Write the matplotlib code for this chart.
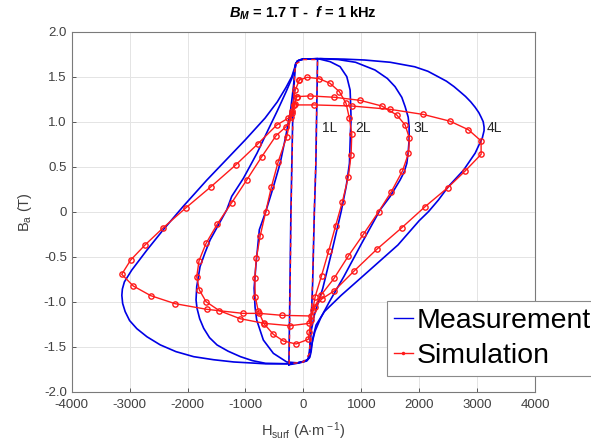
import numpy as np
import matplotlib
matplotlib.use("Agg")
import matplotlib.pyplot as plt
from matplotlib.lines import Line2D

plt.rcParams['font.family'] = ['Liberation Sans', 'DejaVu Sans']
plt.rcParams['mathtext.fontset'] = 'custom'
plt.rcParams['mathtext.rm'] = 'Liberation Sans'
plt.rcParams['mathtext.it'] = 'Liberation Sans:italic:bold'
plt.rcParams['mathtext.bf'] = 'Liberation Sans:bold'

# ---- measured loops (H in A/m, B in T) ----
meas_4L_H = [0, 300, 700, 1056, 1500, 1922, 2150, 2325, 2470, 2600, 2710, 2800, 2890, 2966, 3030,
             3069, 3105, 3120, 3120, 3090, 3060, 2966, 2764, 2505, 2332, 2160, 2000, 1633, 1056,
             652, 363, 219, 162, 133, 110, 60, 0, -100, -287, -653, -1201, -1550, -1894, -2200,
             -2471, -2700, -2875, -3000, -3077, -3120, -3134, -3125, -3090, -2964, -2705, -2418,
             -2073, -1668, -1000, -661, -450, -300, -200, -150, -130, -100, -40, 0]
meas_4L_B = [1.695, 1.70, 1.695, 1.685, 1.66, 1.61, 1.56, 1.50, 1.45, 1.39, 1.33, 1.28, 1.22, 1.16, 1.10,
             1.05, 1.00, 0.94, 0.90, 0.82, 0.78, 0.65, 0.46, 0.28, 0.13, 0.0, -0.10, -0.37, -0.70,
             -0.93, -1.11, -1.26, -1.41, -1.56, -1.62, -1.655, -1.665, -1.68, -1.69, -1.69, -1.67, -1.645, -1.611, -1.555,
             -1.48, -1.39, -1.30, -1.21, -1.11, -1.02, -0.93, -0.86, -0.78, -0.65, -0.43, -0.20,
             0.06, 0.35, 0.80, 1.04, 1.22, 1.38, 1.50, 1.60, 1.65, 1.675, 1.69, 1.695]

meas_3L_H = [0, 300, 600, 900, 1237, 1450, 1583, 1700, 1757, 1810, 1826, 1826, 1810, 1786, 1740, 1670,
             1500, 1325, 1000, 700, 450, 300, 200, 150, 120, 100, 60, 0, -100, -287, -653, -880, -1086,
             -1300, -1490, -1620, -1721, -1790, -1836, -1853, -1841, -1784, -1700, -1611, -1323, -1237,
             -1036, -800, -600, -450, -300, -200, -150, -130, -100, -40, 0]
meas_3L_B = [1.695, 1.70, 1.69, 1.66, 1.574, 1.48, 1.389, 1.27, 1.167, 1.05, 0.944, 0.797, 0.66, 0.537, 0.44, 0.352,
             0.17, 0.02, -0.36, -0.72, -1.0, -1.18, -1.33, -1.46, -1.56, -1.62, -1.655, -1.665, -1.68, -1.69, -1.685, -1.655, -1.611,
             -1.55, -1.481, -1.40, -1.296, -1.19, -1.074, -0.98, -0.833, -0.611, -0.46, -0.315, 0.02, 0.17,
             0.37, 0.65, 0.92, 1.12, 1.33, 1.48, 1.58, 1.64, 1.675, 1.69, 1.695]

meas_2L_H = [0, 250, 461, 634, 750, 807, 818, 824, 814, 796, 739, 652, 500, 335, 190, 133, 104, 80,
             0, -100, -287, -518, -691, -806, -834, -850, -820, -760, -650, -520, -400, -300,
             -220, -170, -145, -130, -100, -40, 0]
meas_2L_B = [1.695, 1.70, 1.667, 1.611, 1.50, 1.352, 1.167, 1.02, 0.907, 0.537, 0.278, 0.0, -0.42, -0.852, -1.148, -1.333, -1.556, -1.64,
             -1.665, -1.68, -1.67, -1.574, -1.426, -1.203, -1.06, -0.85, -0.6, -0.2, 0.0, 0.27, 0.54, 0.85,
             1.13, 1.40, 1.57, 1.64, 1.675, 1.69, 1.695]

meas_1L_H = [-250, -235, -215, -185, -150, -135, -100, 0, 245, 215, 190, 160, 130, 110, 100, 50, 0, -150, -250]
meas_1L_B = [-1.70, -1.0, 0.0, 1.0, 1.55, 1.64, 1.675, 1.695, 1.70, 0.5, 0.0, -0.8, -1.3, -1.55, -1.62, -1.66, -1.67, -1.69, -1.70]

# ---- simulated loops ----
sim_4L_H = [-155, 190, 836, 1497, 2073, 2534, 2850, 3069, 3069, 2793, 2494, 2102, 1700, 1268, 881, 530,
            318, 200, 128, -363, -760, -1042, -1668, -2216, -2636, -2936, -3136, -2981, -2734, -2418,
            -2026, -1594, -1168, -788, -459, -259, -190, -155]
sim_4L_B = [1.186, 1.186, 1.174, 1.137, 1.08, 1.005, 0.91, 0.786, 0.637, 0.452, 0.267, 0.056, -0.178, -0.418, -0.656, -0.881,
            -0.97, -1.06, -1.159, -1.152, -1.13, -1.13, -1.085, -1.022, -0.933, -0.826, -0.696, -0.537, -0.37, -0.178,
            0.044, 0.278, 0.519, 0.752, 0.963, 1.04, 1.12, 1.186]

sim_3L_H = [-114, 116, 536, 979, 1354, 1613, 1757, 1832, 1815, 1711, 1519, 1300, 1037, 777, 530, 306,
            162, 104, -230, -674, -1093, -1451, -1680, -1796, -1841, -1801, -1680, -1485, -1237, -978,
            -719, -472, -299, -210, -150, -114]
sim_3L_B = [1.278, 1.286, 1.271, 1.237, 1.174, 1.074, 0.963, 0.815, 0.648, 0.452, 0.222, 0.0, -0.251, -0.492, -0.741, -0.926,
            -1.093, -1.241, -1.267, -1.241, -1.189, -1.10, -1.0, -0.87, -0.722, -0.544, -0.352, -0.137, 0.1, 0.352,
            0.61, 0.844, 0.944, 1.05, 1.2, 1.278]

sim_2L_H = [-69, 69, 271, 461, 622, 737, 795, 836, 824, 777, 674, 556, 439, 314, 204, 130, 104, 86,
            -126, -345, -518, -680, -780, -831, -838, -812, -746, -649, -551, -434, -287, -200, -140, -69]
sim_2L_B = [1.463, 1.493, 1.478, 1.426, 1.333, 1.204, 1.037, 0.863, 0.63, 0.389, 0.111, -0.159, -0.433, -0.711, -0.944, -1.2, -1.333, -1.418,
            -1.47, -1.437, -1.363, -1.245, -1.10, -0.944, -0.74, -0.518, -0.27, 0.0, 0.278, 0.556, 0.833, 1.1, 1.35, 1.463]

sim_1L_H = [-245, -232, -212, -182, -148, -133, 0, 245, 212, 188, 158, 128, 105, 0, -245]
sim_1L_B = [-1.69, -1.0, 0.0, 1.0, 1.55, 1.64, 1.69, 1.69, 0.5, 0.0, -0.8, -1.3, -1.58, -1.67, -1.69]

loop_labels = ['1L', '2L', '3L', '4L']
label_H = [330, 893, 1900, 3168]
label_B = [0.93, 0.93, 0.93, 0.93]

x_ticks = [-4000, -3000, -2000, -1000, 0, 1000, 2000, 3000, 4000]
x_ticklabels = ['-4000', '-3000', '-2000', '-1000', '0', '1000', '2000', '3000', '4000']
y_ticks = [-2.0, -1.5, -1.0, -0.5, 0, 0.5, 1.0, 1.5, 2.0]
y_ticklabels = ['-2.0', '-1.5', '-1.0', '-0.5', '0', '0.5', '1.0', '1.5', '2.0']

blue = '#0000e6'
red = '#ff1a1a'

fig = plt.figure(figsize=(5.91, 4.46), dpi=100)
ax = fig.add_axes([0.1213, 0.1218, 0.784, 0.8072])

for H, B in [(meas_4L_H, meas_4L_B), (meas_3L_H, meas_3L_B),
             (meas_2L_H, meas_2L_B), (meas_1L_H, meas_1L_B)]:
    ax.plot(H, B, color=blue, lw=1.2, zorder=3)

ax.plot(sim_1L_H, sim_1L_B, color=red, lw=1.0, ls=(0, (3, 3)), zorder=4)
for H, B in [(sim_4L_H, sim_4L_B), (sim_3L_H, sim_3L_B), (sim_2L_H, sim_2L_B)]:
    ax.plot(H, B, color=red, lw=1.0, marker='o', ms=3.8, mfc='none', mew=1.0, zorder=4)

for t, h, b in zip(loop_labels, label_H, label_B):
    ax.text(h, b, t, fontsize=10, color='#262626', va='center', ha='left', zorder=5)

ax.set_xlim(-4000, 4000)
ax.set_ylim(-2, 2)
ax.set_xticks(x_ticks)
ax.set_xticklabels(x_ticklabels)
ax.set_yticks(y_ticks)
ax.set_yticklabels(y_ticklabels)
ax.tick_params(direction='in', length=3, labelsize=9.5, colors='#404040', width=0.6)
ax.tick_params(axis='x', pad=5)
ax.grid(True, color='#e4e4e4', lw=0.7)
ax.set_axisbelow(True)
for s in ax.spines.values():
    s.set_color('#7a7a7a')
    s.set_linewidth(0.8)

ax.set_title(r'$B_M$ = 1.7 T -  $f$ = 1 kHz', fontsize=10.5, fontweight='bold', pad=10)
ax.set_xlabel(r'H$_{\rm surf}$ (A$\cdot$m$^{\rm -1}$)', fontsize=10.5, color='#404040', labelpad=7)
ax.set_ylabel(r'B$_{\rm a}$ (T)', fontsize=10.5, color='#404040', labelpad=7)

handles = [Line2D([], [], color=blue, lw=1.0),
           Line2D([], [], color=red, lw=1.0, marker='o', ms=1.5, mfc='none')]
leg = fig.legend(handles, ['Measurement', 'Simulation'], loc='lower left',
                 bbox_to_anchor=(0.655, 0.157), fontsize=20.5, frameon=True, fancybox=False,
                 handlelength=0.65, handletextpad=0.15, borderpad=0.25, labelspacing=0.3,
                 borderaxespad=0)
leg.get_frame().set_edgecolor('#8a8a8a')
leg.get_frame().set_linewidth(0.8)
leg.get_frame().set_alpha(1)

fig.savefig('out.png', dpi=100)
